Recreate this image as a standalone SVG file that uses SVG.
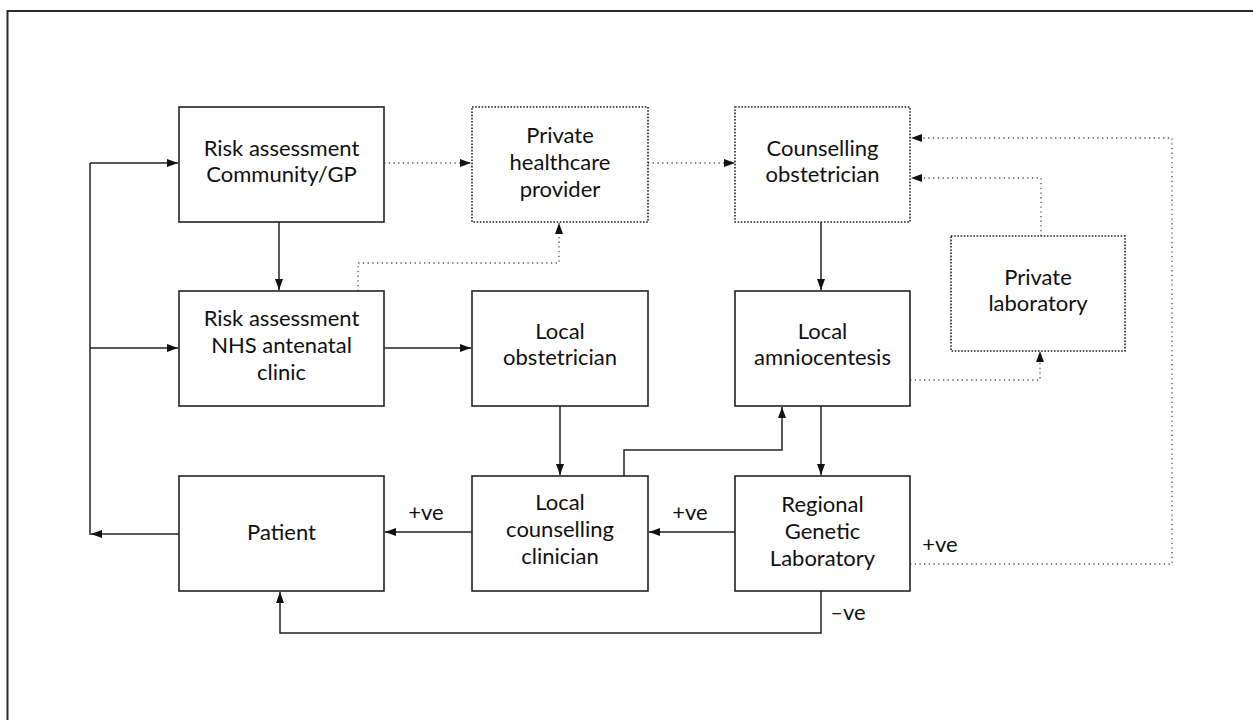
<svg xmlns="http://www.w3.org/2000/svg" width="1253" height="720" viewBox="0 0 1253 720">
<defs>
<style>
.box{fill:#fff;stroke:#222;stroke-width:1.6}
.dbox{fill:#fff;stroke:#222;stroke-width:1.6;stroke-dasharray:1.6 1.6}
.t{font-family:Lato,"Liberation Sans",sans-serif;font-size:22px;fill:#111;text-anchor:middle}
.c{fill:none;stroke:#222;stroke-width:1.5}
.d{fill:none;stroke:#555;stroke-width:1.3;stroke-dasharray:1.3 3.4}
</style>
<marker id="ah" markerUnits="userSpaceOnUse" markerWidth="11" markerHeight="8" refX="11" refY="4" orient="auto">
<path d="M0,0 L11,4 L0,8 z" fill="#111"/>
</marker>
</defs>
<rect width="1253" height="720" fill="#fff"/>
<path d="M7.5,720 V11 H1253" fill="none" stroke="#2a2a2a" stroke-width="2"/>

<g id="connectors">
<line class="c" x1="90" y1="163" x2="90" y2="535"/>
<line class="c" x1="90" y1="163" x2="178" y2="163" marker-end="url(#ah)"/>
<line class="c" x1="90" y1="348" x2="178" y2="348" marker-end="url(#ah)"/>
<line class="c" x1="179" y1="534" x2="91" y2="534" marker-end="url(#ah)"/>
<line class="c" x1="279" y1="222" x2="279" y2="290" marker-end="url(#ah)"/>
<line class="c" x1="384" y1="348" x2="471" y2="348" marker-end="url(#ah)"/>
<line class="c" x1="560" y1="406" x2="560" y2="475" marker-end="url(#ah)"/>
<line class="c" x1="472" y1="532" x2="385" y2="532" marker-end="url(#ah)"/>
<path class="c" d="M624,476 V450 H782 V407" marker-end="url(#ah)"/>
<line class="c" x1="821" y1="222" x2="821" y2="290" marker-end="url(#ah)"/>
<line class="c" x1="821" y1="406" x2="821" y2="475" marker-end="url(#ah)"/>
<line class="c" x1="736" y1="532" x2="649" y2="532" marker-end="url(#ah)"/>
<path class="c" d="M821,591 V633 H280 V592" marker-end="url(#ah)"/>
<line class="d" x1="384" y1="163" x2="471" y2="163" marker-end="url(#ah)"/>
<line class="d" x1="648" y1="163" x2="735" y2="163" marker-end="url(#ah)"/>
<path class="d" d="M358,291 V263 H559 V223" marker-end="url(#ah)"/>
<path class="d" d="M1041,236 V178 H911" marker-end="url(#ah)"/>
<path class="d" d="M910,564 H1172 V138 H911" marker-end="url(#ah)"/>
<path class="d" d="M910,380 H1040 V351" marker-end="url(#ah)"/>
<text class="t" x="426" y="520">+ve</text>
<text class="t" x="690" y="520">+ve</text>
<text class="t" x="940" y="552">+ve</text>
<text class="t" x="848" y="620">–ve</text>
</g>

<g id="risk-community">
<rect class="box" x="179" y="107" width="205" height="115"/>
<text class="t" x="281.5" y="156">Risk assessment</text>
<text class="t" x="281.5" y="182">Community/GP</text>
</g>
<g id="private-healthcare">
<rect class="dbox" x="472" y="107" width="176" height="115"/>
<text class="t" x="560" y="143">Private</text>
<text class="t" x="560" y="170">healthcare</text>
<text class="t" x="560" y="197">provider</text>
</g>
<g id="counselling-obstetrician">
<rect class="dbox" x="735" y="107" width="175" height="115"/>
<text class="t" x="822.5" y="156">Counselling</text>
<text class="t" x="822.5" y="182">obstetrician</text>
</g>
<g id="private-laboratory">
<rect class="dbox" x="951" y="236" width="174" height="115"/>
<text class="t" x="1038" y="285">Private</text>
<text class="t" x="1038" y="311">laboratory</text>
</g>
<g id="risk-nhs">
<rect class="box" x="179" y="291" width="205" height="115"/>
<text class="t" x="281.5" y="326">Risk assessment</text>
<text class="t" x="281.5" y="353">NHS antenatal</text>
<text class="t" x="281.5" y="380">clinic</text>
</g>
<g id="local-obstetrician">
<rect class="box" x="472" y="291" width="176" height="115"/>
<text class="t" x="560" y="339">Local</text>
<text class="t" x="560" y="365">obstetrician</text>
</g>
<g id="local-amniocentesis">
<rect class="box" x="735" y="291" width="175" height="115"/>
<text class="t" x="822.5" y="339">Local</text>
<text class="t" x="822.5" y="365">amniocentesis</text>
</g>
<g id="patient">
<rect class="box" x="179" y="476" width="205" height="115"/>
<text class="t" x="281.5" y="540">Patient</text>
</g>
<g id="local-counselling">
<rect class="box" x="472" y="476" width="176" height="115"/>
<text class="t" x="560" y="510">Local</text>
<text class="t" x="560" y="537">counselling</text>
<text class="t" x="560" y="564">clinician</text>
</g>
<g id="regional-lab">
<rect class="box" x="735" y="476" width="175" height="115"/>
<text class="t" x="822.5" y="512">Regional</text>
<text class="t" x="822.5" y="539">Genetic</text>
<text class="t" x="822.5" y="566">Laboratory</text>
</g>
</svg>
